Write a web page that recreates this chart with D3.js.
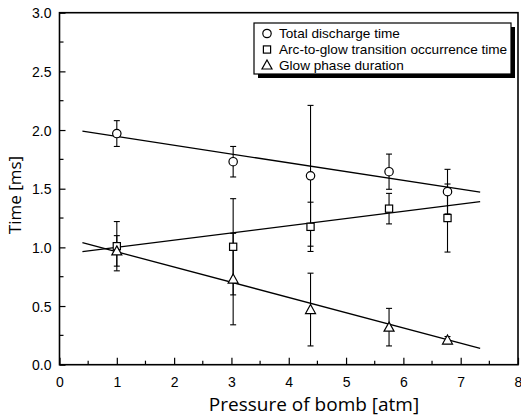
<!DOCTYPE html>
<html>
<head>
<meta charset="utf-8">
<script src="https://cdn.jsdelivr.net/npm/d3@7"></script>
<style>
  body { margin: 0; background: #fff; }
  svg { display: block; }
  .tick text { font-family: "Liberation Sans", Arial, sans-serif; font-size: 14px; fill: #000; }
</style>
</head>
<body>
<svg id="chart" width="521" height="417"></svg>
<script>
// pressure of bomb [atm]
const pressure = [1.0, 3.03, 4.38, 5.75, 6.77];

// series values [ms] and their error half-widths
const totalTime = [1.97, 1.73, 1.61, 1.645, 1.475];
const totalErr = [0.11, 0.13, 0.60, 0.15, 0.19];
const arcTime = [1.01, 1.005, 1.175, 1.33, 1.25];
const arcErr = [0.21, 0.41, 0.21, 0.13, 0.29];
const glowTime = [0.97, 0.73, 0.47, 0.32, 0.21];
const glowErr = [0.13, 0.39, 0.31, 0.16, 0.03];

// linear fit end points
const fitX = [0.4, 7.34];
const fitTotal = [1.99, 1.47];
const fitArc = [0.963, 1.39];
const fitGlow = [1.04, 0.14];

const legendLabels = ['Total discharge time', 'Arc-to-glow transition occurrence time', 'Glow phase duration'];
const xTicks = [0, 1, 2, 3, 4, 5, 6, 7, 8];
const yTicks = [0, 0.5, 1, 1.5, 2, 2.5, 3];

const svg = d3.select('#chart');
const margin = {left: 59.5, right: 3, top: 12.7, bottom: 52.3};
const W = 521, H = 417;

const x = d3.scaleLinear().domain([0, 8]).range([margin.left, W - margin.right]);
const y = d3.scaleLinear().domain([0, 3]).range([H - margin.bottom, margin.top]);

// axes: ticks drawn inward
const xAxis = svg.append('g')
  .attr('transform', `translate(0,${y(0)})`)
  .call(d3.axisBottom(x).tickValues(xTicks).tickFormat(d3.format('d')).tickSizeInner(-7).tickSizeOuter(0).tickPadding(12));
const yAxis = svg.append('g')
  .attr('transform', `translate(${x(0)},0)`)
  .call(d3.axisLeft(y).tickValues(yTicks).tickFormat(d3.format('.1f')).tickSizeInner(-6).tickSizeOuter(0).tickPadding(8));
[xAxis, yAxis].forEach(g => {
  g.select('.domain').remove();
  g.selectAll('.tick line').attr('stroke', '#000').attr('stroke-width', 1.2);
});
yAxis.selectAll('.tick text').attr('dy', '0.36em');

// minor ticks
const xMinor = d3.range(0.5, 8, 1);
const yMinor = d3.range(0.25, 3, 0.5);
svg.append('g').selectAll('line').data(xMinor).join('line')
  .attr('x1', d => x(d)).attr('x2', d => x(d))
  .attr('y1', y(0)).attr('y2', y(0) - 4)
  .attr('stroke', '#000').attr('stroke-width', 1.2);
svg.append('g').selectAll('line').data(yMinor).join('line')
  .attr('x1', x(0)).attr('x2', x(0) + 4)
  .attr('y1', d => y(d)).attr('y2', d => y(d))
  .attr('stroke', '#000').attr('stroke-width', 1.2);

// frame
svg.append('rect')
  .attr('x', x(0)).attr('y', y(3))
  .attr('width', x(8) - x(0)).attr('height', y(0) - y(3))
  .attr('fill', 'none').attr('stroke', '#000').attr('stroke-width', 1.6);

// fit lines
[fitTotal, fitArc, fitGlow].forEach(f => {
  svg.append('line')
    .attr('x1', x(fitX[0])).attr('y1', y(f[0]))
    .attr('x2', x(fitX[1])).attr('y2', y(f[1]))
    .attr('stroke', '#000').attr('stroke-width', 1.3);
});

const series = [
  {vals: totalTime, errs: totalErr, shape: 'circle'},
  {vals: arcTime, errs: arcErr, shape: 'square'},
  {vals: glowTime, errs: glowErr, shape: 'triangle'}
];

function drawSymbol(g, shape, cx, cy) {
  if (shape === 'circle') {
    g.append('circle').attr('cx', cx).attr('cy', cy).attr('r', 4.2)
      .attr('fill', '#fff').attr('stroke', '#000').attr('stroke-width', 1.2);
  } else if (shape === 'square') {
    g.append('rect').attr('x', cx - 3.6).attr('y', cy - 3.6).attr('width', 7.2).attr('height', 7.2)
      .attr('fill', '#fff').attr('stroke', '#000').attr('stroke-width', 1.2);
  } else {
    g.append('path').attr('d', `M${cx},${cy - 5}L${cx + 5},${cy + 4}L${cx - 5},${cy + 4}Z`)
      .attr('fill', '#fff').attr('stroke', '#000').attr('stroke-width', 1.2);
  }
}

// error bars
const errG = svg.append('g');
series.forEach(s => {
  pressure.forEach((p, i) => {
    const lo = y(s.vals[i] - s.errs[i]), hi = y(s.vals[i] + s.errs[i]);
    errG.append('line').attr('x1', x(p)).attr('x2', x(p)).attr('y1', lo).attr('y2', hi)
      .attr('stroke', '#000').attr('stroke-width', 1.1);
    [lo, hi].forEach(v => {
      errG.append('line').attr('x1', x(p) - 3).attr('x2', x(p) + 3).attr('y1', v).attr('y2', v)
        .attr('stroke', '#000').attr('stroke-width', 1.1);
    });
  });
});

// markers
const markG = svg.append('g');
series.forEach(s => {
  pressure.forEach((p, i) => drawSymbol(markG, s.shape, x(p), y(s.vals[i])));
});

// legend
const lg = svg.append('g');
lg.append('rect').attr('x', 258).attr('y', 27).attr('width', 257).attr('height', 51).attr('fill', '#000');
lg.append('rect').attr('x', 254).attr('y', 23).attr('width', 257).attr('height', 51)
  .attr('fill', '#fff').attr('stroke', '#000').attr('stroke-width', 1.2);
const rowY = [33.5, 49.5, 65];
series.forEach((s, i) => {
  drawSymbol(lg, s.shape, 267, rowY[i]);
  lg.append('text').attr('x', 279).attr('y', rowY[i]).attr('dy', '0.35em')
    .attr('font-family', '"Liberation Sans", Arial, sans-serif').attr('font-size', 13.6)
    .text(legendLabels[i]);
});

// axis titles
svg.append('text')
  .attr('x', 314).attr('y', 411)
  .attr('text-anchor', 'middle')
  .attr('font-family', '"Open Sans", sans-serif').attr('font-size', 19)
  .text('Pressure of bomb [atm]');
svg.append('text')
  .attr('transform', 'translate(21,195) rotate(-90)')
  .attr('text-anchor', 'middle')
  .attr('font-family', '"Open Sans", sans-serif').attr('font-size', 17)
  .text('Time [ms]');
</script>
</body>
</html>
